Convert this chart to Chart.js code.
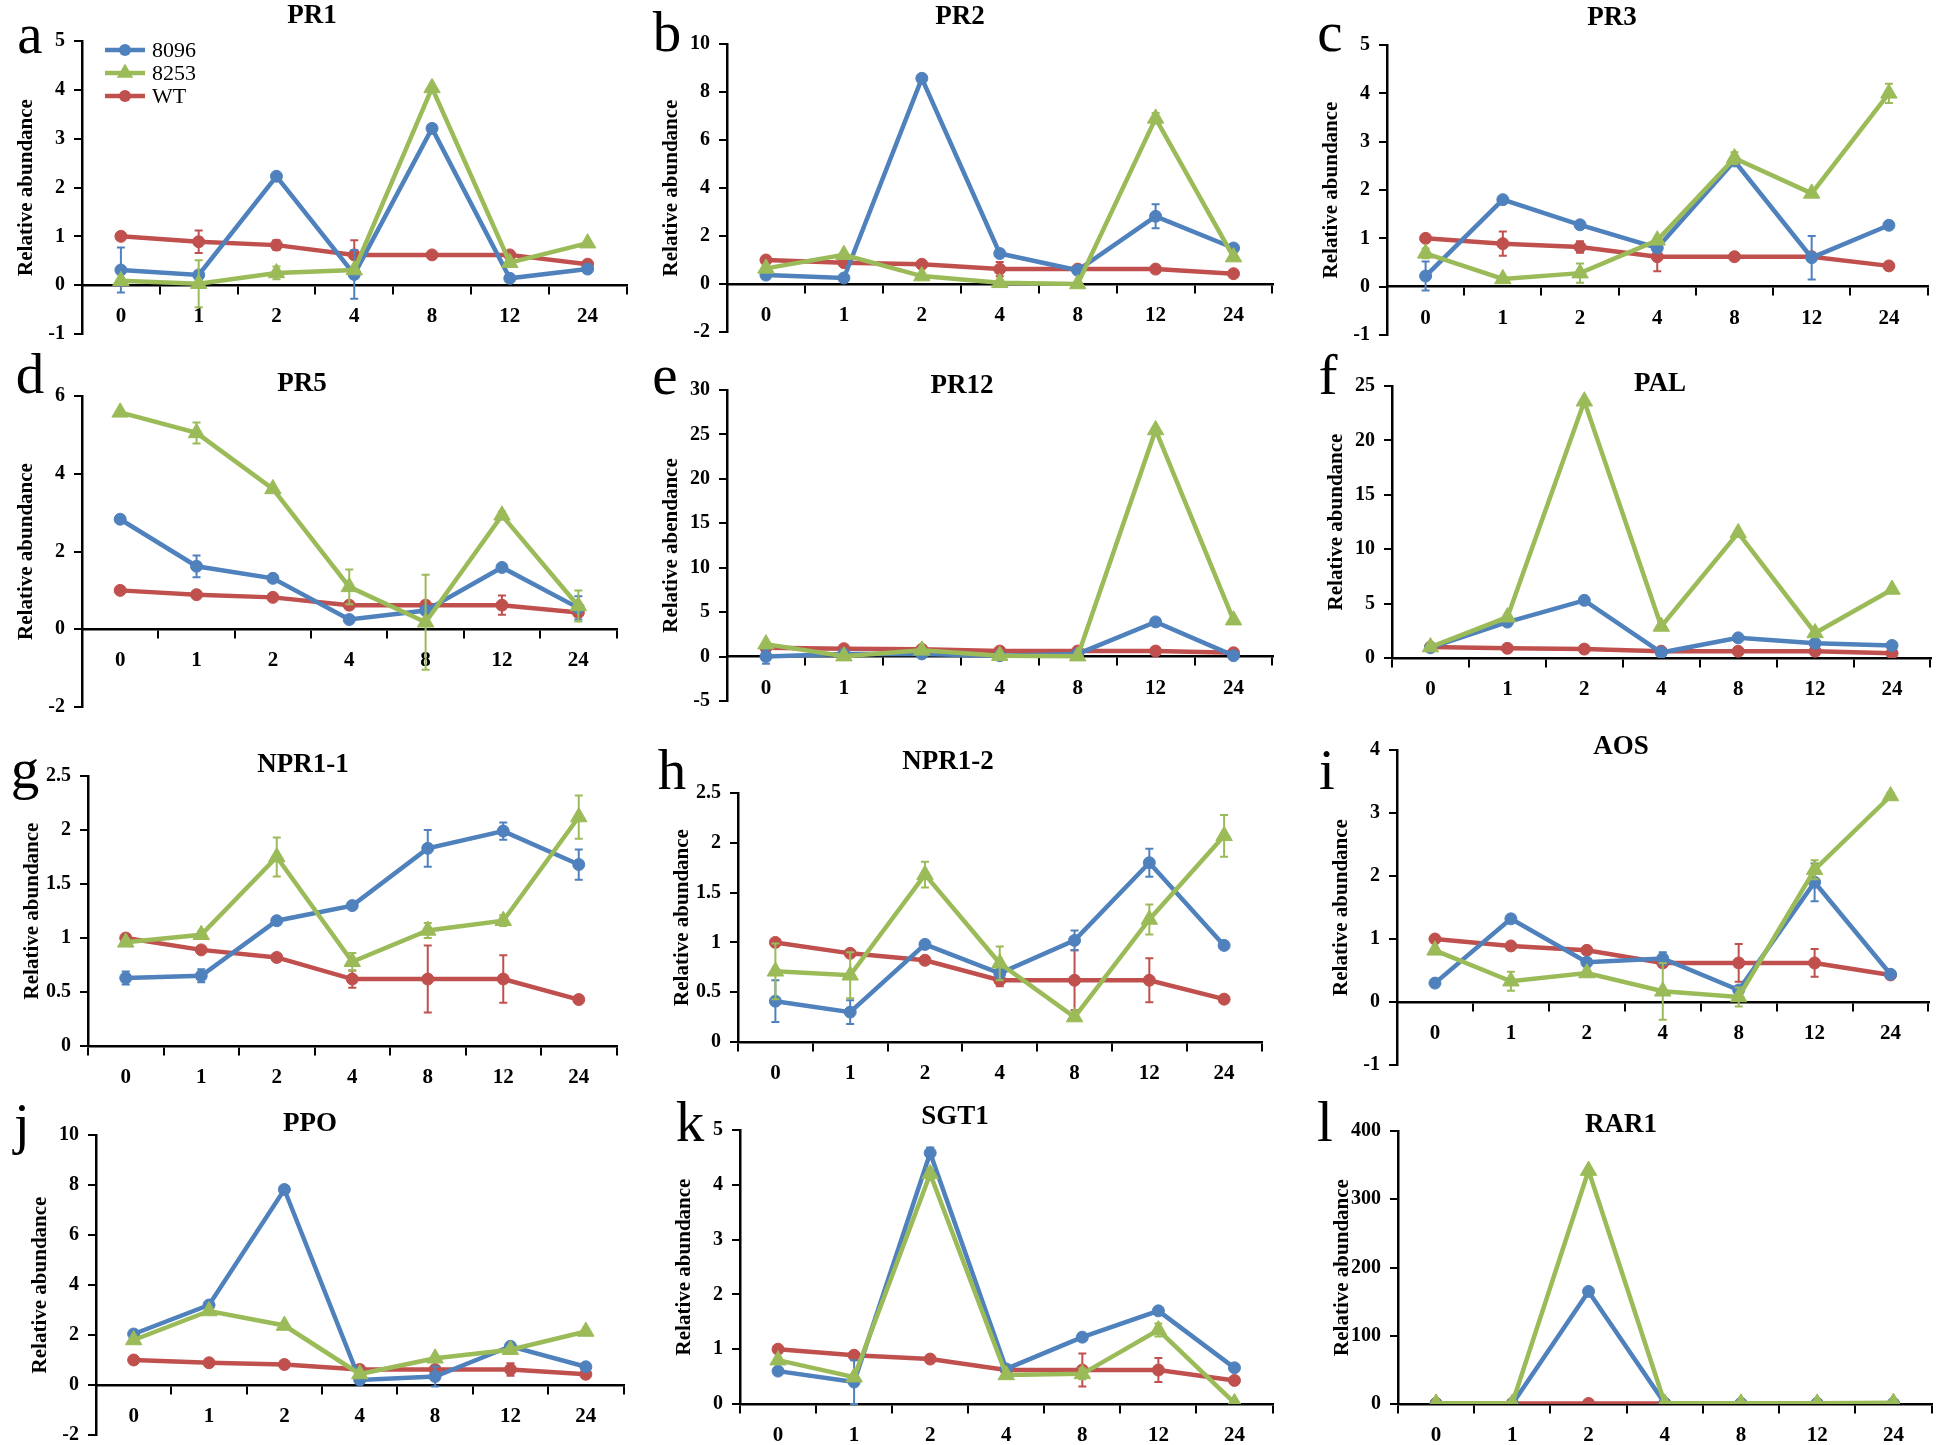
<!DOCTYPE html>
<html>
<head>
<meta charset="utf-8">
<script src="https://cdn.jsdelivr.net/npm/chart.js@4.4.1/dist/chart.umd.min.js"></script>
<style>
  html, body { margin: 0; padding: 0; background: #fff; }
  body { width: 1940px; height: 1445px; position: relative; overflow: hidden;
         font-family: "Liberation Serif", "Times New Roman", serif; }
  .panel { position: absolute; }
  .gene { position: absolute; font-weight: bold; font-size: 27px; line-height: 1;
          transform: translate(-50%, -50%); white-space: nowrap; color: #000; }
  .tag { position: absolute; font-size: 57px; line-height: 1; transform: translateX(-50%); color: #000; }
</style>
</head>
<body>
<script>
// hours post inoculation, same for every panel
const hours = ["0", "1", "2", "4", "8", "12", "24"];
const seriesNames = ["8096", "8253", "WT"];
const wtMean = [1.0, 0.89, 0.82, 0.62, 0.62, 0.62, 0.43];

// a PR1
const pr1_8096 = [0.31, 0.21, 2.23, 0.22, 3.21, 0.14, 0.33];
const pr1_8096_sd = [0.46, 0, 0, 0.5, 0.08, 0, 0];
const pr1_8253 = [0.09, 0.03, 0.25, 0.31, 4.04, 0.46, 0.86];
const pr1_8253_sd = [0, 0.48, 0.13, 0, 0, 0, 0];
const pr1_wt_sd = [0, 0.23, 0.1, 0.3, 0.06, 0.05, 0];
const pr1_yAxis = [-1, 5, 1];

// b PR2
const pr2_8096 = [0.37, 0.25, 8.57, 1.27, 0.57, 2.82, 1.5];
const pr2_8096_sd = [0, 0, 0, 0, 0, 0.5, 0];
const pr2_8253 = [0.65, 1.22, 0.33, 0.05, 0.0, 6.9, 1.12];
const pr2_8253_sd = [0, 0, 0, 0, 0, 0.22, 0];
const pr2_wt_sd = [0, 0.15, 0.05, 0.3, 0.05, 0.05, 0];
const pr2_yAxis = [-2, 10, 2];

// c PR3
const pr3_8096 = [0.22, 1.8, 1.28, 0.8, 2.6, 0.6, 1.27];
const pr3_8096_sd = [0.3, 0, 0, 0.05, 0, 0.45, 0];
const pr3_8253 = [0.69, 0.16, 0.28, 0.96, 2.66, 1.93, 4.0];
const pr3_8253_sd = [0.1, 0, 0.2, 0, 0.12, 0, 0.2];
const pr3_wt_sd = [0, 0.25, 0.12, 0.3, 0.06, 0.05, 0];
const pr3_yAxis = [-1, 5, 1];

// d PR5
const pr5_8096 = [2.83, 1.62, 1.31, 0.25, 0.48, 1.59, 0.55];
const pr5_8096_sd = [0, 0.28, 0, 0, 0, 0, 0.3];
const pr5_8253 = [5.58, 5.05, 3.61, 1.09, 0.18, 2.93, 0.6];
const pr5_8253_sd = [0, 0.27, 0, 0.45, 1.22, 0.1, 0.4];
const pr5_wt_sd = [0, 0.05, 0.05, 0.1, 0.1, 0.25, 0];
const pr5_yAxis = [-2, 6, 2];

// e PR12
const pr12_8096 = [0.0, 0.3, 0.3, 0.1, 0.3, 3.9, 0.1];
const pr12_8096_sd = [0.8, 0, 0, 0, 0, 0, 0];
const pr12_8253 = [1.4, 0.05, 0.7, 0.1, 0.05, 25.5, 4.1];
const pr12_8253_sd = [0, 0, 0, 0, 0, 0, 0];
const pr12_wt_sd = [0, 0, 0, 0, 0, 0, 0];
const pr12_yAxis = [-5, 30, 5];

// f PAL
const pal_8096 = [0.95, 3.3, 5.3, 0.5, 1.85, 1.35, 1.15];
const pal_8096_sd = [0, 0, 0, 0, 0, 0, 0];
const pal_8253 = [1.0, 3.75, 23.6, 2.9, 11.5, 2.3, 6.3];
const pal_8253_sd = [0, 0, 0, 0, 0, 0, 0];
const pal_wt_sd = [0, 0, 0, 0, 0, 0, 0];
const pal_yAxis = [0, 25, 5];

// g NPR1-1
const npr11_8096 = [0.63, 0.65, 1.16, 1.3, 1.83, 1.99, 1.68];
const npr11_8096_sd = [0.06, 0.06, 0, 0, 0.17, 0.08, 0.14];
const npr11_8253 = [0.96, 1.03, 1.75, 0.78, 1.07, 1.16, 2.12];
const npr11_8253_sd = [0.03, 0.03, 0.18, 0.08, 0.07, 0.05, 0.2];
const npr11_wt_sd = [0, 0, 0, 0.08, 0.31, 0.22, 0];
const npr11_yAxis = [0, 2.5, 0.5];

// h NPR1-2
const npr12_8096 = [0.41, 0.3, 0.98, 0.69, 1.02, 1.8, 0.97];
const npr12_8096_sd = [0.21, 0.12, 0, 0.03, 0.1, 0.14, 0.03];
const npr12_8253 = [0.71, 0.67, 1.68, 0.79, 0.25, 1.23, 2.07];
const npr12_8253_sd = [0.28, 0.23, 0.13, 0.17, 0, 0.15, 0.21];
const npr12_wt_sd = [0, 0, 0, 0.06, 0.3, 0.22, 0];
const npr12_yAxis = [0, 2.5, 0.5];

// i AOS
const aos_8096 = [0.3, 1.32, 0.63, 0.69, 0.19, 1.9, 0.44];
const aos_8096_sd = [0, 0, 0, 0.1, 0.05, 0.3, 0];
const aos_8253 = [0.82, 0.33, 0.46, 0.17, 0.08, 2.1, 3.27];
const aos_8253_sd = [0.05, 0.15, 0.05, 0.45, 0.15, 0.15, 0.05];
const aos_wt_sd = [0, 0, 0, 0.05, 0.3, 0.22, 0];
const aos_yAxis = [-1, 4, 1];

// j PPO
const ppo_8096 = [2.04, 3.2, 7.82, 0.2, 0.34, 1.55, 0.73];
const ppo_8096_sd = [0, 0, 0, 0, 0.4, 0, 0];
const ppo_8253 = [1.8, 2.96, 2.38, 0.44, 1.07, 1.41, 2.14];
const ppo_8253_sd = [0, 0, 0, 0, 0, 0, 0];
const ppo_wt_sd = [0, 0.05, 0.05, 0.1, 0.1, 0.25, 0];
const ppo_yAxis = [-2, 10, 2];

// k SGT1
const sgt1_8096 = [0.6, 0.4, 4.58, 0.64, 1.22, 1.7, 0.66];
const sgt1_8096_sd = [0, 0.4, 0.1, 0, 0, 0, 0];
const sgt1_8253 = [0.8, 0.49, 4.2, 0.53, 0.55, 1.35, 0.02];
const sgt1_8253_sd = [0, 0, 0.1, 0, 0.1, 0.12, 0];
const sgt1_wt_sd = [0, 0, 0, 0.05, 0.3, 0.22, 0];
const sgt1_yAxis = [0, 5, 1];

// l RAR1
const rar1_8096 = [0, 0, 165, 1, 1, 1, 1];
const rar1_8096_sd = [0, 0, 0, 0, 0, 0, 0];
const rar1_8253 = [1, 1, 342, 1, 1, 1, 2];
const rar1_8253_sd = [0, 0, 0, 0, 0, 0, 0];
const rar1_wt_sd = [0, 0, 0, 0, 0, 0, 0];
const rar1_yAxis = [0, 400, 100];

const colors = ["#4F81BD", "#9BBB59", "#C0504D"];
const styles = ["circle", "triangle", "circle"];
const radii = [6, 9.5, 6];
const drawOrder = [1, 0, 2];
const serif = "'Liberation Serif', 'Times New Roman', serif";
const yLab = "Relative abundance";

// box = chart area [left, top, right, bottom] in page pixels
const panels = [
  { tag: "a", title: "PR1", yLabel: yLab, a: pr1_8096, as: pr1_8096_sd, b: pr1_8253, bs: pr1_8253_sd, ws: pr1_wt_sd, yAxis: pr1_yAxis,
    box: [82, 35, 627, 334], titleAt: [312, 14], tagAt: [30, 52], legend: true },
  { tag: "b", title: "PR2", yLabel: yLab, a: pr2_8096, as: pr2_8096_sd, b: pr2_8253, bs: pr2_8253_sd, ws: pr2_wt_sd, yAxis: pr2_yAxis,
    box: [727, 38, 1273, 332], titleAt: [960, 15], tagAt: [667, 50] },
  { tag: "c", title: "PR3", yLabel: yLab, a: pr3_8096, as: pr3_8096_sd, b: pr3_8253, bs: pr3_8253_sd, ws: pr3_wt_sd, yAxis: pr3_yAxis,
    box: [1387, 39, 1928, 335], titleAt: [1612, 16], tagAt: [1330, 50] },
  { tag: "d", title: "PR5", yLabel: yLab, a: pr5_8096, as: pr5_8096_sd, b: pr5_8253, bs: pr5_8253_sd, ws: pr5_wt_sd, yAxis: pr5_yAxis,
    box: [82, 390, 617, 707], titleAt: [302, 382], tagAt: [30, 392] },
  { tag: "e", title: "PR12", yLabel: "Relative abendance", a: pr12_8096, as: pr12_8096_sd, b: pr12_8253, bs: pr12_8253_sd, ws: pr12_wt_sd, yAxis: pr12_yAxis,
    box: [727, 384, 1273, 701], titleAt: [962, 384], tagAt: [665, 393] },
  { tag: "f", title: "PAL", yLabel: yLab, a: pal_8096, as: pal_8096_sd, b: pal_8253, bs: pal_8253_sd, ws: pal_wt_sd, yAxis: pal_yAxis,
    box: [1392, 380, 1931, 658], titleAt: [1660, 382], tagAt: [1328, 393] },
  { tag: "g", title: "NPR1-1", yLabel: yLab, a: npr11_8096, as: npr11_8096_sd, b: npr11_8253, bs: npr11_8253_sd, ws: npr11_wt_sd, yAxis: npr11_yAxis,
    box: [88, 770, 617, 1046], titleAt: [303, 763], tagAt: [25, 787] },
  { tag: "h", title: "NPR1-2", yLabel: yLab, a: npr12_8096, as: npr12_8096_sd, b: npr12_8253, bs: npr12_8253_sd, ws: npr12_wt_sd, yAxis: npr12_yAxis,
    box: [738, 787, 1262, 1042], titleAt: [948, 760], tagAt: [672, 788] },
  { tag: "i", title: "AOS", yLabel: yLab, a: aos_8096, as: aos_8096_sd, b: aos_8253, bs: aos_8253_sd, ws: aos_wt_sd, yAxis: aos_yAxis,
    box: [1397, 744, 1929, 1065], titleAt: [1621, 745], tagAt: [1327, 788] },
  { tag: "j", title: "PPO", yLabel: yLab, a: ppo_8096, as: ppo_8096_sd, b: ppo_8253, bs: ppo_8253_sd, ws: ppo_wt_sd, yAxis: ppo_yAxis,
    box: [96, 1129, 624, 1435], titleAt: [310, 1122], tagAt: [22, 1142] },
  { tag: "k", title: "SGT1", yLabel: yLab, a: sgt1_8096, as: sgt1_8096_sd, b: sgt1_8253, bs: sgt1_8253_sd, ws: sgt1_wt_sd, yAxis: sgt1_yAxis,
    box: [740, 1124, 1273, 1404], titleAt: [955, 1115], tagAt: [690, 1140] },
  { tag: "l", title: "RAR1", yLabel: yLab, a: rar1_8096, as: rar1_8096_sd, b: rar1_8253, bs: rar1_8253_sd, ws: rar1_wt_sd, yAxis: rar1_yAxis,
    box: [1398, 1125, 1932, 1404], titleAt: [1621, 1123], tagAt: [1325, 1140] }
];

function marker(ctx, style, r, x, y) {
  ctx.beginPath();
  if (style === "triangle") {
    ctx.moveTo(x, y - r);
    ctx.lineTo(x + r * 0.866, y + r / 2);
    ctx.lineTo(x - r * 0.866, y + r / 2);
    ctx.closePath();
  } else {
    ctx.arc(x, y, r, 0, Math.PI * 2);
  }
  ctx.fill();
}

// vertical error bars, drawn from the y scale
const errorBars = {
  id: "errorBars",
  afterDatasetDraw(chart, args) {
    const ds = chart.data.datasets[args.index];
    if (!ds.sd) return;
    const y = chart.scales.y;
    const ctx = chart.ctx;
    ctx.save();
    ctx.strokeStyle = ds.borderColor;
    ctx.lineWidth = 2;
    args.meta.data.forEach((pt, i) => {
      const e = ds.sd[i];
      if (!e) return;
      const top = y.getPixelForValue(ds.data[i] + e);
      const bot = y.getPixelForValue(ds.data[i] - e);
      ctx.beginPath();
      ctx.moveTo(pt.x, top); ctx.lineTo(pt.x, bot);
      ctx.moveTo(pt.x - 4, top); ctx.lineTo(pt.x + 4, top);
      ctx.moveTo(pt.x - 4, bot); ctx.lineTo(pt.x + 4, bot);
      ctx.stroke();
    });
    ctx.restore();
  }
};

// legend inside the plot of panel a
const insideLegend = {
  id: "insideLegend",
  afterDraw(chart, args, opts) {
    if (!opts.show) return;
    const ctx = chart.ctx;
    const area = chart.chartArea;
    chart.data.datasets.forEach((d, i) => {
      const y = area.top + 9 + i * 23;
      const x0 = area.left + 23;
      ctx.save();
      ctx.strokeStyle = d.borderColor;
      ctx.lineWidth = 4.5;
      ctx.beginPath(); ctx.moveTo(x0, y); ctx.lineTo(x0 + 40, y); ctx.stroke();
      ctx.fillStyle = d.borderColor;
      marker(ctx, d.pointStyle, d.pointRadius, x0 + 20, y);
      ctx.fillStyle = "#000";
      ctx.font = "22px " + serif;
      ctx.textBaseline = "middle";
      ctx.fillText(d.label, x0 + 47, y + 1);
      ctx.restore();
    });
  }
};

function addText(cls, text, x, y) {
  const el = document.createElement("div");
  el.className = cls;
  el.textContent = text;
  el.style.left = x + "px";
  el.style.top = y + "px";
  document.body.appendChild(el);
}

function makePanel(p) {
  const [L, T, R, B] = p.box;
  const wrap = document.createElement("div");
  wrap.className = "panel";
  wrap.style.left = (L - 90) + "px";
  wrap.style.top = (T - 15) + "px";
  wrap.style.width = (R - L + 100) + "px";
  wrap.style.height = (B - T + 60) + "px";
  const cv = document.createElement("canvas");
  wrap.appendChild(cv);
  document.body.appendChild(wrap);

  const means = [p.a, p.b, wtMean];
  const sds = [p.as, p.bs, p.ws];
  const datasets = seriesNames.map((name, i) => ({
    label: name,
    data: means[i],
    sd: sds[i],
    borderColor: colors[i],
    backgroundColor: colors[i],
    pointBackgroundColor: colors[i],
    pointBorderColor: colors[i],
    pointStyle: styles[i],
    pointRadius: radii[i],
    pointBorderWidth: 1,
    borderWidth: 4.5,
    tension: 0,
    order: drawOrder[i]
  }));

  new Chart(cv, {
    type: "line",
    data: { labels: hours, datasets },
    options: {
      responsive: true,
      maintainAspectRatio: false,
      animation: false,
      layout: { padding: { top: 15, right: 10, bottom: 45, left: 0 } },
      plugins: {
        legend: { display: false },
        tooltip: { enabled: false },
        insideLegend: { show: !!p.legend }
      },
      scales: {
        x: {
          position: { y: 0 },
          offset: true,
          grid: { offset: true, drawOnChartArea: false, tickLength: 8, color: "#000", lineWidth: 2 },
          border: { color: "#000", width: 2.5 },
          ticks: { color: "#000", padding: 11, maxRotation: 0, autoSkip: false,
                   font: { family: serif, size: 21, weight: "bold" } },
          afterFit: s => { s.height = 0; }
        },
        y: {
          position: "left",
          min: p.yAxis[0],
          max: p.yAxis[1],
          grid: { drawOnChartArea: false, tickLength: 8, color: "#000", lineWidth: 2 },
          border: { color: "#000", width: 2.5 },
          ticks: { stepSize: p.yAxis[2], color: "#000", padding: 9,
                   font: { family: serif, size: 20, weight: "bold" },
                   callback: v => String(+v.toFixed(2)) },
          title: { display: true, text: p.yLabel, color: "#000",
                   font: { family: serif, size: 21, weight: "bold" },
                   padding: { top: 22, bottom: 0 } },
          afterFit: s => { s.width = 90; }
        }
      }
    },
    plugins: [errorBars, insideLegend]
  });

  addText("gene", p.title, p.titleAt[0], p.titleAt[1]);
  addText("tag", p.tag, p.tagAt[0], p.tagAt[1] - 47);
}

panels.forEach(makePanel);
</script>
</body>
</html>
